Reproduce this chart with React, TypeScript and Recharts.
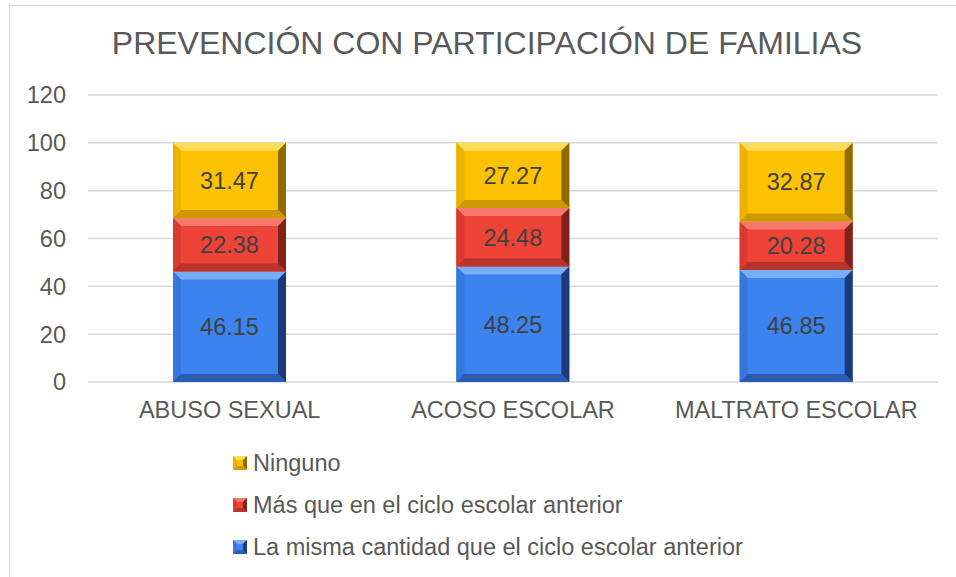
import { BarChart, Bar, XAxis, YAxis, CartesianGrid, LabelList, Legend } from 'recharts';

const categories = ['ABUSO SEXUAL', 'ACOSO ESCOLAR', 'MALTRATO ESCOLAR'];
const mismaCantidad = [46.15, 48.25, 46.85];
const masQueAnterior = [22.38, 24.48, 20.28];
const ninguno = [31.47, 27.27, 32.87];
const yTicks = [0, 20, 40, 60, 80, 100, 120];

const seriesNames = {
    misma: 'La misma cantidad que el ciclo escolar anterior',
    mas: 'Más que en el ciclo escolar anterior',
    ninguno: 'Ninguno',
};

// face, top bevel, left bevel, right bevel, bottom bevel
const palette: Record<string, string[]> = {
    misma: ['#3d83ef', '#78aef7', '#3577dc', '#1c3a78', '#2a5cb4'],
    mas: ['#ee4337', '#f7786c', '#dc3a2f', '#7e221c', '#b8332a'],
    ninguno: ['#fcc203', '#ffdb5c', '#eab203', '#8f6c00', '#cc9a00'],
};

const FONT = '"Liberation Sans", Arial, sans-serif';
const FS = 23.5;

function bevelShape(key: string) {
    const [face, top, left, right, bottom] = palette[key];
    return (props: any) => {
        const { x, y, width: w, height: h } = props;
        if (!w || !h) return <g />;
        const b = Math.min(8, w / 4, h / 4);
        return (
            <g>
                <rect x={x} y={y} width={w} height={h} fill={face} />
                <polygon points={`${x},${y} ${x + w},${y} ${x + w - b},${y + b} ${x + b},${y + b}`} fill={top} />
                <polygon points={`${x},${y} ${x + b},${y + b} ${x + b},${y + h - b} ${x},${y + h}`} fill={left} />
                <polygon points={`${x + w},${y} ${x + w},${y + h} ${x + w - b},${y + h - b} ${x + w - b},${y + b}`} fill={right} />
                <polygon points={`${x},${y + h} ${x + w},${y + h} ${x + w - b},${y + h - b} ${x + b},${y + h - b}`} fill={bottom} />
            </g>
        );
    };
}

function Marker({ k }: { k: string }) {
    const [face, top, left, right, bottom] = palette[k];
    const s = 14, b = 4;
    return (
        <svg width={s} height={s} style={{ display: 'block', marginRight: 6 }}>
            <rect width={s} height={s} fill={face} />
            <polygon points={`0,0 ${s},0 ${s - b},${b} ${b},${b}`} fill={top} />
            <polygon points={`0,0 ${b},${b} ${b},${s - b} 0,${s}`} fill={left} />
            <polygon points={`${s},0 ${s},${s} ${s - b},${s - b} ${s - b},${b}`} fill={right} />
            <polygon points={`0,${s} ${s},${s} ${s - b},${s - b} ${b},${s - b}`} fill={bottom} />
        </svg>
    );
}

const legendOrder = ['ninguno', 'mas', 'misma'];

function LegendBox() {
    return (
        <div style={{ fontFamily: FONT, fontSize: FS, color: '#595959' }}>
            {legendOrder.map(k => (
                <div key={k} style={{ display: 'flex', alignItems: 'center', height: 42 }}>
                    <Marker k={k} />
                    <span>{(seriesNames as any)[k]}</span>
                </div>
            ))}
        </div>
    );
}

export default function App() {
    const data = categories.map((c, i) => ({
        name: c,
        misma: mismaCantidad[i],
        mas: masQueAnterior[i],
        ninguno: ninguno[i],
    }));

    const labelStyle = { fill: '#404040', fontSize: FS, fontFamily: FONT };

    return (
        <div style={{ position: 'absolute', left: 0, top: 0, width: 956, height: 577, overflow: 'hidden', background: '#fff', fontFamily: FONT }}>
            <div style={{ position: 'absolute', left: 9, top: 5, width: 1000, height: 1000, borderLeft: '1px solid #d9d9d9', borderTop: '1px solid #d9d9d9' }} />
            <div style={{ position: 'absolute', left: 0, width: 974, top: 27, textAlign: 'center', fontSize: 32, lineHeight: '32px', color: '#595959' }}>
                PREVENCIÓN CON PARTICIPACIÓN DE FAMILIAS
            </div>
            <div style={{ position: 'absolute', left: 0, top: 0 }}>
                <BarChart
                    width={956}
                    height={577}
                    data={data}
                    margin={{ top: 95, right: 18, left: 0, bottom: 39 }}
                    barCategoryGap="30%"
                >
                    <CartesianGrid vertical={false} stroke="#d9d9d9" strokeWidth={1.5} />
                    <XAxis
                        dataKey="name"
                        axisLine={false}
                        tickLine={false}
                        tickMargin={13}
                        interval={0}
                        tick={{ fill: '#595959', fontSize: FS, fontFamily: FONT }}
                    />
                    <YAxis
                        width={88}
                        domain={[0, 120]}
                        ticks={yTicks}
                        axisLine={false}
                        tickLine={false}
                        tickMargin={16}
                        tick={{ fill: '#595959', fontSize: FS, fontFamily: FONT }}
                    />
                    <Legend
                        content={<LegendBox />}
                        wrapperStyle={{ position: 'absolute', left: 233, top: 442, width: 600, height: 126 }}
                    />
                    <Bar dataKey="misma" name={seriesNames.misma} stackId="a" isAnimationActive={false} shape={bevelShape('misma')}>
                        <LabelList dataKey="misma" position="center" style={labelStyle} />
                    </Bar>
                    <Bar dataKey="mas" name={seriesNames.mas} stackId="a" isAnimationActive={false} shape={bevelShape('mas')}>
                        <LabelList dataKey="mas" position="center" style={labelStyle} />
                    </Bar>
                    <Bar dataKey="ninguno" name={seriesNames.ninguno} stackId="a" isAnimationActive={false} shape={bevelShape('ninguno')}>
                        <LabelList dataKey="ninguno" position="center" style={labelStyle} />
                    </Bar>
                </BarChart>
            </div>
        </div>
    );
}
